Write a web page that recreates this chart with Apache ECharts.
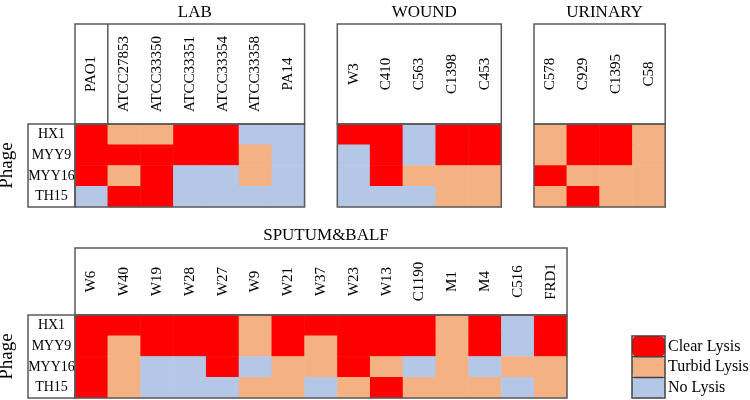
<!DOCTYPE html>
<html>
<head>
<meta charset="utf-8">
<script src="https://cdn.jsdelivr.net/npm/echarts@6/dist/echarts.min.js"></script>
<style>
  html, body { margin: 0; padding: 0; background: #fff; }
  #chart { width: 750px; height: 400px; }
</style>
</head>
<body>
<div id="chart"></div>
<script>
// 2 = clear lysis, 1 = turbid lysis, 0 = no lysis
const phages = ["HX1", "MYY9", "MYY16", "TH15"];

const labStrains = ["PAO1", "ATCC27853", "ATCC33350", "ATCC33351", "ATCC33354", "ATCC33358", "PA14"];
const labValues = [
  [2, 1, 1, 2, 2, 0, 0],
  [2, 2, 2, 2, 2, 1, 0],
  [2, 1, 2, 0, 0, 1, 0],
  [0, 2, 2, 0, 0, 0, 0]
];

const woundStrains = ["W3", "C410", "C563", "C1398", "C453"];
const woundValues = [
  [2, 2, 0, 2, 2],
  [0, 2, 0, 2, 2],
  [0, 2, 1, 1, 1],
  [0, 0, 0, 1, 1]
];

const urinaryStrains = ["C578", "C929", "C1395", "C58"];
const urinaryValues = [
  [1, 2, 2, 1],
  [1, 2, 2, 1],
  [2, 1, 1, 1],
  [1, 2, 1, 1]
];

const sputumStrains = ["W6", "W40", "W19", "W28", "W27", "W9", "W21", "W37", "W23", "W13", "C1190", "M1", "M4", "C516", "FRD1"];
const sputumValues = [
  [2, 2, 2, 2, 2, 1, 2, 2, 2, 2, 2, 1, 2, 0, 2],
  [2, 1, 2, 2, 2, 1, 2, 1, 2, 2, 2, 1, 2, 0, 2],
  [2, 1, 0, 0, 2, 0, 1, 1, 2, 1, 0, 1, 0, 1, 1],
  [2, 1, 0, 0, 0, 1, 1, 0, 1, 2, 1, 1, 1, 0, 1]
];

const lysisLabels = ["No Lysis", "Turbid Lysis", "Clear Lysis"];
const lysisColors = ["#B4C7E7", "#F4B183", "#FF0000"];

// layout
const font = "Liberation Serif";
const lineColor = "#595959";
const cellW = 32.8;
const cellH = 20.75;
const boxLeft = 28;

const panels = [
  { title: "LAB", strains: labStrains, values: labValues, left: 75, top: 124, headTop: 24, titleTop: -1, rowLabels: true },
  { title: "WOUND", strains: woundStrains, values: woundValues, left: 337.3, top: 124, headTop: 24, titleTop: -1, rowLabels: false },
  { title: "URINARY", strains: urinaryStrains, values: urinaryValues, left: 534, top: 124, headTop: 24, titleTop: -1, rowLabels: false },
  { title: "SPUTUM&BALF", strains: sputumStrains, values: sputumValues, left: 75, top: 315, headTop: 248, titleTop: 222, rowLabels: true }
];

const leg = { left: 632, top: 336, w: 33, h: 20.7 };

const grids = [], xAxes = [], yAxes = [], series = [], titles = [], graphics = [];

panels.forEach(function (p, i) {
  const w = p.strains.length * cellW;
  const h = phages.length * cellH;
  const headH = p.top - p.headTop;
  grids.push({ left: p.left, top: p.top, width: w, height: h, outerBoundsMode: "none", containLabel: false });
  xAxes.push({
    type: "category",
    gridIndex: i,
    position: "top",
    data: p.strains,
    axisLine: { show: false },
    axisTick: { show: false },
    splitLine: { show: false },
    axisLabel: {
      rotate: -90,
      interval: 0,
      align: "center",
      verticalAlign: "middle",
      margin: headH / 2,
      fontFamily: font,
      fontSize: 15,
      color: "#000"
    }
  });
  yAxes.push({
    type: "category",
    gridIndex: i,
    inverse: true,
    data: phages,
    name: p.rowLabels ? "Phage" : "",
    nameLocation: "middle",
    nameRotate: 90,
    nameGap: 58,
    nameTextStyle: { fontFamily: font, fontSize: 19, color: "#000" },
    axisLine: { show: false },
    axisTick: { show: false },
    splitLine: { show: false },
    axisLabel: {
      show: p.rowLabels,
      align: "center",
      margin: (p.left - boxLeft) / 2,
      fontFamily: font,
      fontSize: 14,
      color: "#000"
    }
  });
  const data = [];
  p.values.forEach(function (row, r) {
    row.forEach(function (v, c) {
      data.push([c, r, v]);
    });
  });
  series.push({
    type: "heatmap",
    xAxisIndex: i,
    yAxisIndex: i,
    data: data,
    itemStyle: { borderWidth: 0 },
    emphasis: { disabled: true }
  });
  titles.push({
    text: p.title,
    left: p.left + w / 2,
    top: p.titleTop,
    textAlign: "center",
    textStyle: { fontFamily: font, fontSize: 17, fontWeight: "normal", color: "#000" }
  });
  // header box + cell frame
  graphics.push({
    type: "rect", z: 100,
    shape: { x: p.left, y: p.headTop, width: w, height: headH },
    style: { fill: "none", stroke: lineColor, lineWidth: 1.5 }
  });
  graphics.push({
    type: "rect", z: 100,
    shape: { x: p.left, y: p.top, width: w, height: h },
    style: { fill: "none", stroke: lineColor, lineWidth: 1.5 }
  });
  if (p.rowLabels) {
    graphics.push({
      type: "rect", z: 100,
      shape: { x: boxLeft, y: p.top, width: p.left - boxLeft, height: h },
      style: { fill: "none", stroke: lineColor, lineWidth: 1.5 }
    });
  }
});

// PAO1 reference strain separated in the LAB header
graphics.push({
  type: "line", z: 100,
  shape: { x1: panels[0].left + cellW, y1: panels[0].headTop, x2: panels[0].left + cellW, y2: panels[0].top },
  style: { stroke: lineColor, lineWidth: 1.5 }
});

// legend swatch frame
graphics.push({
  type: "rect", z: 100,
  shape: { x: leg.left, y: leg.top, width: leg.w, height: leg.h * 3 },
  style: { fill: "none", stroke: "#404040", lineWidth: 1.5 }
});
[1, 2].forEach(function (k) {
  graphics.push({
    type: "line", z: 100,
    shape: { x1: leg.left, y1: leg.top + leg.h * k, x2: leg.left + leg.w, y2: leg.top + leg.h * k },
    style: { stroke: "#404040", lineWidth: 1.5 }
  });
});

const chart = echarts.init(document.getElementById("chart"));
chart.setOption({
  backgroundColor: "#fff",
  animation: false,
  title: titles,
  grid: grids,
  xAxis: xAxes,
  yAxis: yAxes,
  visualMap: {
    type: "piecewise",
    orient: "vertical",
    align: "left",
    left: leg.left,
    top: leg.top,
    padding: 0,
    itemWidth: leg.w,
    itemHeight: leg.h,
    itemGap: 0,
    textGap: 3,
    hoverLink: false,
    selectedMode: false,
    seriesIndex: [0, 1, 2, 3],
    pieces: lysisLabels.map(function (l, k) {
      return { value: k, label: l, color: lysisColors[k] };
    }),
    textStyle: { fontFamily: font, fontSize: 16, color: "#000" }
  },
  series: series,
  graphic: graphics
});
</script>
</body>
</html>
